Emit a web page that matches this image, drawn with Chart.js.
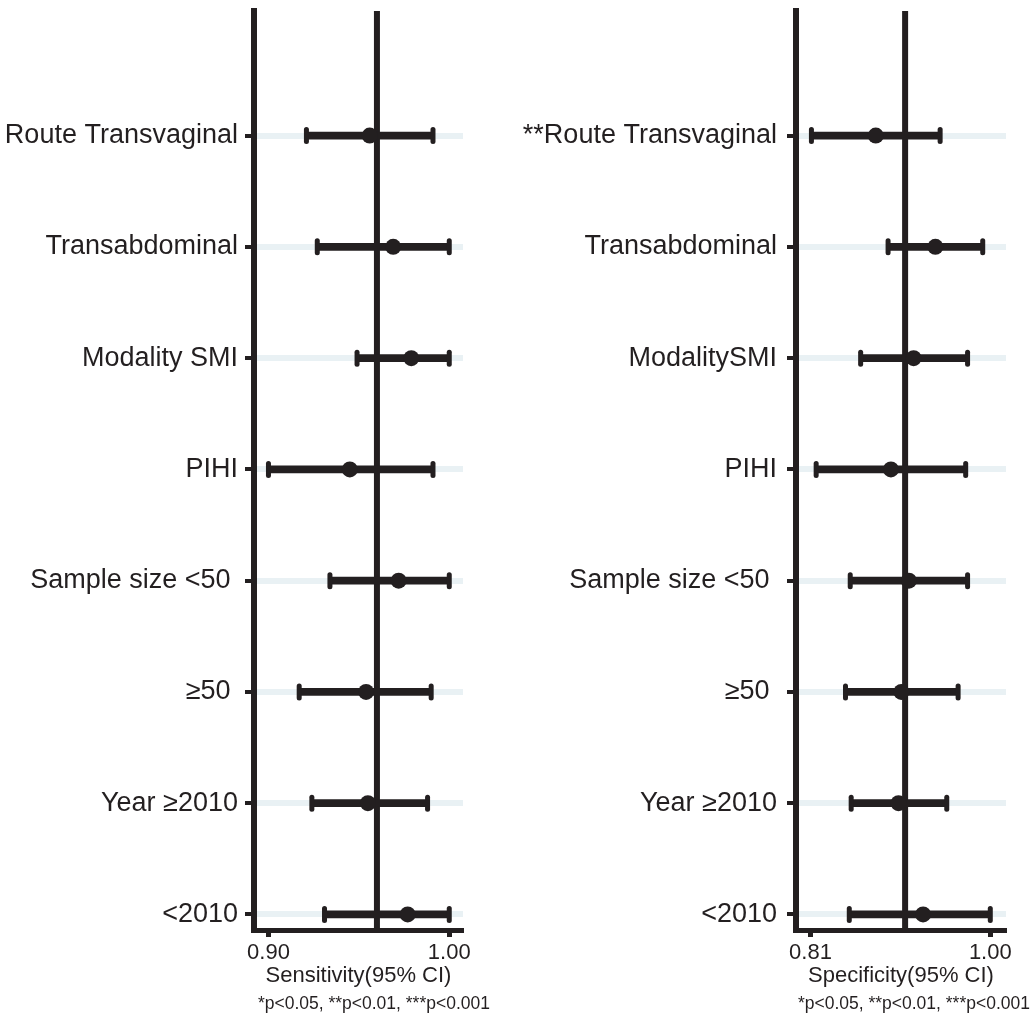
<!DOCTYPE html>
<html>
<head>
<meta charset="utf-8">
<script src="https://cdn.jsdelivr.net/npm/chart.js@4.4.1/dist/chart.umd.min.js"></script>
<style>
  html, body { margin: 0; padding: 0; background: #fff; }
  body { width: 1032px; height: 1019px; position: relative; overflow: hidden;
         font-family: "Liberation Sans", Arial, Helvetica, sans-serif; }
  .panel { position: absolute; top: 0; width: 516px; height: 1019px; }
  .panel canvas { display: block; }
  .note { position: absolute; top: 992px; font-size: 17.5px; line-height: 22px;
          color: #231f20; white-space: nowrap; }
</style>
</head>
<body>
<div class="panel" style="left:0"><canvas id="sens" width="516" height="1019"></canvas></div>
<div class="panel" style="left:516px"><canvas id="spec" width="516" height="1019"></canvas></div>
<div class="note" style="right:542px">*p&lt;0.05, **p&lt;0.01, ***p&lt;0.001</div>
<div class="note" style="right:2px">*p&lt;0.05, **p&lt;0.01, ***p&lt;0.001</div>

<script>
// Subgroup labels, top to bottom
const sensLabels = ['Route Transvaginal', 'Transabdominal', 'Modality SMI', 'PIHI',
                    'Sample size <50 ', '\u226550 ', 'Year \u22652010', '<2010'];
const specLabels = ['**Route Transvaginal', 'Transabdominal', 'ModalitySMI', 'PIHI',
                    'Sample size <50 ', '\u226550 ', 'Year \u22652010', '<2010'];

// Sensitivity: point estimate with 95% CI
const sensEstimate = [0.956, 0.969, 0.979, 0.945, 0.972, 0.954, 0.955, 0.977];
const sensLower    = [0.921, 0.927, 0.949, 0.900, 0.934, 0.917, 0.924, 0.931];
const sensUpper    = [0.991, 1.000, 1.000, 0.991, 1.000, 0.990, 0.988, 1.000];
const sensPooled   = 0.96;
const sensTicks    = [0.90, 1.00];

// Specificity: point estimate with 95% CI
const specEstimate = [0.879, 0.942, 0.919, 0.895, 0.914, 0.906, 0.903, 0.929];
const specLower    = [0.811, 0.892, 0.863, 0.816, 0.852, 0.847, 0.853, 0.851];
const specUpper    = [0.947, 0.992, 0.976, 0.974, 0.976, 0.966, 0.954, 1.000];
const specPooled   = 0.91;
const specTicks    = [0.81, 1.00];

const INK  = '#231f20';
const BAND = '#e9f1f4';
const FAMILY = '"Liberation Sans", Arial, Helvetica, sans-serif';

// rows sit at 0..7 on a reversed linear axis; extra room above the first row
const Y_MIN = -1.12;
const Y_MAX = 7.14;

// round the ends of the interval caps
const roundCaps = {
  id: 'roundCaps',
  beforeDatasetDraw(chart, args) {
    chart.ctx.save();
    chart.ctx.lineCap = args.meta.dataset ? 'butt' : 'round';
  },
  afterDatasetDraw(chart) { chart.ctx.restore(); }
};

function forestPanel(id, p) {
  const rows = p.labels.map((_, i) => i);
  return new Chart(document.getElementById(id), {
    type: 'scatter',
    plugins: [roundCaps],
    data: {
      datasets: [
        { // pooled estimate reference line
          type: 'line',
          data: [{ x: p.pooled, y: Y_MIN }, { x: p.pooled, y: Y_MAX }],
          borderColor: INK, borderWidth: 6, pointRadius: 0, clip: 0, order: 3
        },
        { // confidence interval span
          type: 'bar', indexAxis: 'y',
          data: rows.map(i => ({ y: i, x: [p.lower[i], p.upper[i]] })),
          backgroundColor: INK, borderWidth: 0, barThickness: 7, order: 2
        },
        { // interval end caps
          type: 'scatter',
          data: rows.flatMap(i => [{ x: p.lower[i], y: i }, { x: p.upper[i], y: i }]),
          pointStyle: 'line', pointRotation: 90, pointRadius: 6,
          pointBorderWidth: 5, pointBorderColor: INK, order: 1
        },
        { // point estimates
          type: 'scatter',
          data: rows.map(i => ({ x: p.estimate[i], y: i })),
          pointRadius: 8, pointBackgroundColor: INK, pointBorderWidth: 0, order: 0
        }
      ]
    },
    options: {
      responsive: false,
      animation: false,
      events: [],
      layout: { padding: { top: 11, left: 0, right: p.padRight, bottom: 30 } },
      plugins: { legend: { display: false }, tooltip: { enabled: false } },
      scales: {
        x: {
          type: 'linear', position: 'bottom',
          min: p.xMin, max: p.xMax, offset: false, beginAtZero: false,
          afterFit: s => { s.height = 59; s.paddingLeft = 0; s.paddingRight = 0; },
          afterBuildTicks: s => { s.ticks = p.ticks.map(v => ({ value: v })); },
          ticks: {
            callback: v => Number(v).toFixed(2),
            font: { family: FAMILY, size: 22 }, color: INK,
            padding: 3, maxRotation: 0, autoSkip: false
          },
          grid: { drawOnChartArea: false, drawTicks: true, tickLength: 7,
                  tickWidth: 5, tickColor: INK, offset: false },
          border: { display: true, color: INK, width: 5 },
          title: { display: true, text: p.title, color: INK,
                   font: { family: FAMILY, size: 22 }, padding: { top: 0, bottom: 0 } }
        },
        y: {
          type: 'linear', position: 'left',
          min: Y_MIN, max: Y_MAX, reverse: true, offset: false, beginAtZero: false,
          afterFit: s => { s.width = p.axisWidth; s.paddingTop = 0; s.paddingBottom = 0; },
          afterBuildTicks: s => { s.ticks = rows.map(i => ({ value: i })); },
          ticks: {
            callback: v => p.labels[v],
            font: { family: FAMILY, size: 27 }, color: INK,
            padding: p.labelPad, autoSkip: false
          },
          grid: { color: BAND, lineWidth: 6, drawTicks: true, tickLength: 9,
                  tickWidth: 4, tickColor: INK, offset: false },
          border: { display: true, color: INK, width: 6 }
        }
      }
    }
  });
}

forestPanel('sens', {
  labels: sensLabels, estimate: sensEstimate, lower: sensLower, upper: sensUpper,
  pooled: sensPooled, ticks: sensTicks, xMin: 0.8920, xMax: 1.0076,
  title: 'Sensitivity(95% CI)', axisWidth: 254, padRight: 53, labelPad: 7
});

forestPanel('spec', {
  labels: specLabels, estimate: specEstimate, lower: specLower, upper: specUpper,
  pooled: specPooled, ticks: specTicks, xMin: 0.7947, xMax: 1.0166,
  title: 'Specificity(95% CI)', axisWidth: 280, padRight: 26, labelPad: 10
});
</script>
</body>
</html>
